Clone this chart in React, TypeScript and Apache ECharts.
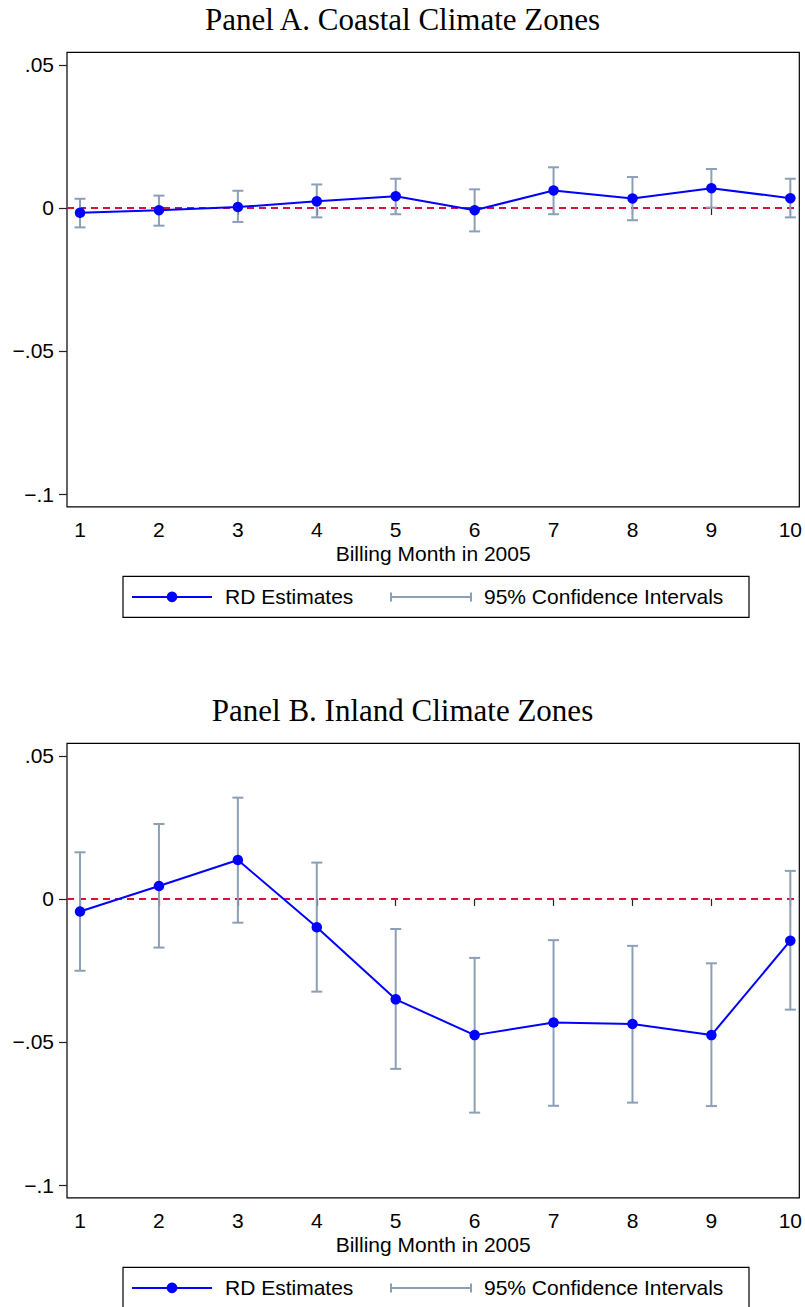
import React, { useEffect, useRef } from "react";
import * as echarts from "echarts";

// ---------- data ----------
const months = [1, 2, 3, 4, 5, 6, 7, 8, 9, 10];
const xTickValues = [1, 2, 3, 4, 5, 6, 7, 8, 9, 10];
const yTickValues = [-0.1, -0.05, 0, 0.05];
const yTickLabels = ["\u2212.1", "\u2212.05", "0", ".05"];

const panelTitles = ["Panel A. Coastal Climate Zones", "Panel B. Inland Climate Zones"];
const xAxisTitle = "Billing Month in 2005";
const legendLabels = ["RD Estimates", "95% Confidence Intervals"];

const coastalEst = [-0.0017, -0.0008, 0.0003, 0.0023, 0.0041, -0.0008, 0.0061, 0.0033, 0.0069, 0.0034];
const coastalLo = [-0.0068, -0.0062, -0.0049, -0.0033, -0.0022, -0.0082, -0.0022, -0.0043, 0.0001, -0.0033];
const coastalHi = [0.0032, 0.0043, 0.006, 0.0082, 0.0102, 0.0065, 0.0142, 0.0108, 0.0136, 0.0102];

const inlandEst = [-0.0044, 0.0045, 0.0136, -0.0099, -0.0351, -0.0476, -0.0432, -0.0437, -0.0476, -0.0146];
const inlandLo = [-0.0251, -0.017, -0.0083, -0.0324, -0.0594, -0.0747, -0.0723, -0.0712, -0.0724, -0.0387];
const inlandHi = [0.0163, 0.0262, 0.0354, 0.0127, -0.0105, -0.0206, -0.0144, -0.0164, -0.0225, 0.0098];

// ---------- styles ----------
const BLUE = "#0000FF";
const CI = "#8B9FB7";
const RED = "#D4123C";
const SANS = "Liberation Sans, Arial, sans-serif";
const SERIF = "Liberation Serif, Times New Roman, serif";

const W = 805;
const H = 1307;
const gridLeft = 67;
const gridRight = 5;
const gridTops = [52.3, 743.3];
const gridHeight = 454.6;
const X_MIN = 0.835;
const X_MAX = 10.114;
const Y_MIN = -0.1045;
const Y_MAX = 0.0544;

function buildOption() {
  const panels = [
    { est: coastalEst, lo: coastalLo, hi: coastalHi },
    { est: inlandEst, lo: inlandLo, hi: inlandHi },
  ];

  const grid = gridTops.map((top) => ({
    left: gridLeft,
    right: gridRight,
    top,
    height: gridHeight,
    show: true,
    borderColor: "#000",
    borderWidth: 1.2,
    backgroundColor: "#fff",
    containLabel: false,
  }));

  const xAxis = gridTops.map((_, i) => ({
    type: "value",
    gridIndex: i,
    min: X_MIN,
    max: X_MAX,
    name: xAxisTitle,
    nameLocation: "middle",
    nameGap: 36,
    nameTextStyle: { fontFamily: SANS, fontSize: 21, color: "#000" },
    axisLine: { show: false },
    splitLine: { show: false },
    axisTick: {
      show: true,
      length: 7,
      customValues: xTickValues,
      lineStyle: { color: "#222", width: 1.2 },
    },
    axisLabel: {
      customValues: xTickValues,
      margin: 12,
      fontFamily: SANS,
      fontSize: 21,
      color: "#000",
      formatter: (v: number) => String(v),
    },
  }));

  const yAxis = gridTops.map((_, i) => ({
    type: "value",
    gridIndex: i,
    min: Y_MIN,
    max: Y_MAX,
    axisLine: { show: false },
    splitLine: { show: false },
    axisTick: {
      show: true,
      length: 8,
      customValues: yTickValues,
      lineStyle: { color: "#222", width: 1.2 },
    },
    axisLabel: {
      customValues: yTickValues,
      margin: 13,
      fontFamily: SANS,
      fontSize: 21,
      color: "#000",
      formatter: (v: number) => {
        const idx = yTickValues.findIndex((t) => Math.abs(t - v) < 1e-9);
        return idx >= 0 ? yTickLabels[idx] : "";
      },
    },
  }));

  const series: any[] = [];
  panels.forEach((p, i) => {
    series.push({
      type: "custom",
      xAxisIndex: i,
      yAxisIndex: i,
      z: 2,
      data: months.map((m, k) => [m, p.lo[k], p.hi[k]]),
      encode: { x: 0, y: [1, 2] },
      renderItem: (params: any, api: any) => {
        const x = api.value(0);
        const a = api.coord([x, api.value(1)]);
        const b = api.coord([x, api.value(2)]);
        const hw = 5.5;
        const st = { stroke: CI, lineWidth: 2 };
        return {
          type: "group",
          children: [
            { type: "line", shape: { x1: a[0], y1: a[1], x2: b[0], y2: b[1] }, style: st },
            { type: "line", shape: { x1: a[0] - hw, y1: a[1], x2: a[0] + hw, y2: a[1] }, style: st },
            { type: "line", shape: { x1: b[0] - hw, y1: b[1], x2: b[0] + hw, y2: b[1] }, style: st },
          ],
        };
      },
      markLine: {
        silent: true,
        symbol: "none",
        label: { show: false },
        lineStyle: { color: RED, type: [7, 5], width: 2 },
        data: [{ yAxis: 0 }],
        z: 1,
      },
    });
    series.push({
      type: "line",
      xAxisIndex: i,
      yAxisIndex: i,
      z: 3,
      data: months.map((m, k) => [m, p.est[k]]),
      symbol: "circle",
      symbolSize: 10.5,
      itemStyle: { color: BLUE },
      lineStyle: { color: BLUE, width: 2 },
    });
  });

  // legends and titles
  const graphic: any[] = [];
  const titleX = W / 2;
  gridTops.forEach((top, i) => {
    const titleY = top - 33;
    graphic.push({
      type: "text",
      x: titleX,
      y: titleY,
      style: {
        text: panelTitles[i],
        fontFamily: SERIF,
        fontSize: 31,
        fill: "#000",
        align: "center",
        verticalAlign: "middle",
      },
    });
    const ly = top + gridHeight + 69.5;
    const lh = 41;
    const cy = ly + lh / 2;
    graphic.push({
      type: "rect",
      shape: { x: 123, y: ly, width: 626, height: lh },
      style: { fill: "#fff", stroke: "#000", lineWidth: 1.2 },
    });
    graphic.push({
      type: "line",
      shape: { x1: 132, y1: cy, x2: 212, y2: cy },
      style: { stroke: BLUE, lineWidth: 2 },
    });
    graphic.push({
      type: "circle",
      shape: { cx: 172, cy, r: 5.3 },
      style: { fill: BLUE },
    });
    graphic.push({
      type: "text",
      x: 225,
      y: cy,
      style: {
        text: legendLabels[0],
        fontFamily: SANS,
        fontSize: 21,
        fill: "#000",
        align: "left",
        verticalAlign: "middle",
      },
    });
    graphic.push({
      type: "line",
      shape: { x1: 391, y1: cy, x2: 471, y2: cy },
      style: { stroke: CI, lineWidth: 2 },
    });
    graphic.push({
      type: "line",
      shape: { x1: 391, y1: cy - 4.5, x2: 391, y2: cy + 4.5 },
      style: { stroke: CI, lineWidth: 2 },
    });
    graphic.push({
      type: "line",
      shape: { x1: 471, y1: cy - 4.5, x2: 471, y2: cy + 4.5 },
      style: { stroke: CI, lineWidth: 2 },
    });
    graphic.push({
      type: "text",
      x: 484,
      y: cy,
      style: {
        text: legendLabels[1],
        fontFamily: SANS,
        fontSize: 21,
        fill: "#000",
        align: "left",
        verticalAlign: "middle",
      },
    });
  });

  return {
    animation: false,
    backgroundColor: "#fff",
    grid,
    xAxis,
    yAxis,
    series,
    graphic,
  };
}

export default function App() {
  const ref = useRef<HTMLDivElement>(null);
  useEffect(() => {
    if (!ref.current) return;
    const chart = echarts.init(ref.current, undefined, { renderer: "svg" });
    chart.setOption(buildOption() as any);
    return () => chart.dispose();
  }, []);
  return (
    <div
      ref={ref}
      style={{ position: "absolute", left: 0, top: 0, width: W, height: H, background: "#fff" }}
    />
  );
}
